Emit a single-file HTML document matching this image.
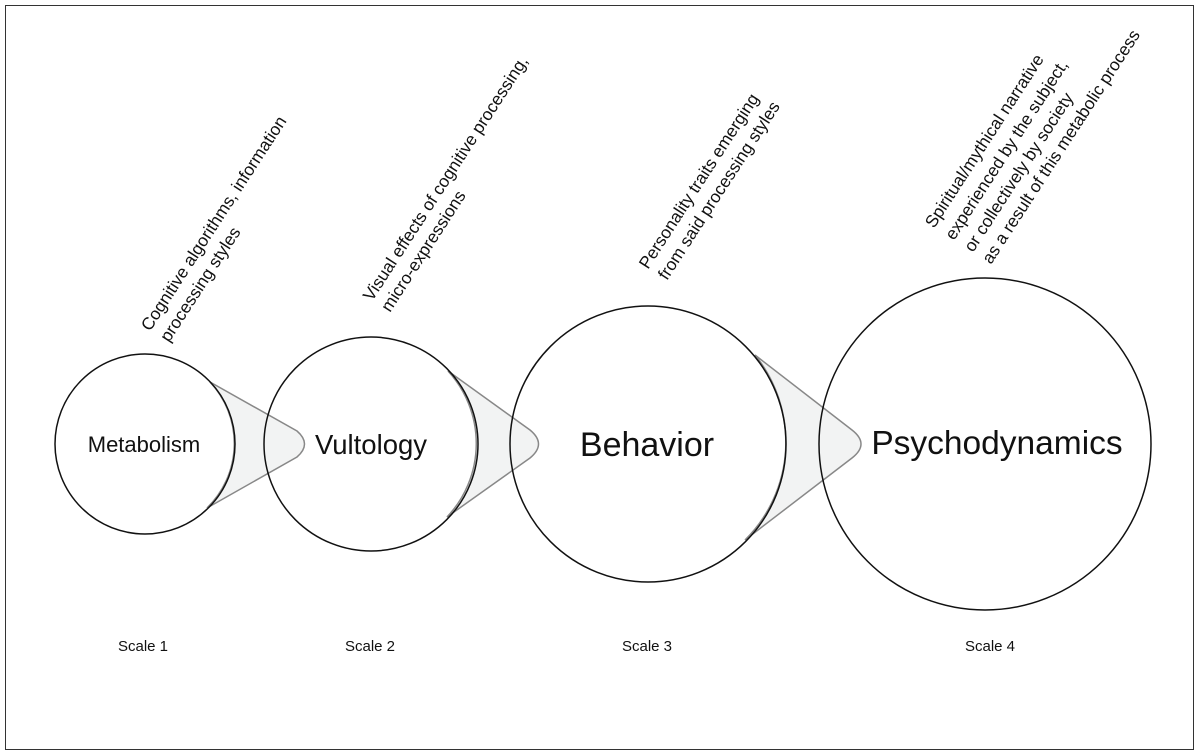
<!DOCTYPE html>
<html><head><meta charset="utf-8"><style>
html,body{margin:0;padding:0;background:#fff;}
svg{display:block;font-family:"Liberation Sans",sans-serif;}
</style></head><body>
<svg width="1200" height="756" viewBox="0 0 1200 756">
<rect x="5.5" y="5.5" width="1188" height="744" fill="#fff" stroke="#333" stroke-width="1"/>
<g fill="#f2f3f3" stroke="#888" stroke-width="1.5">
<path d="M210,382 L297,431 Q312,444 297,457 L207,508 A90,90 0 0 0 210,382 Z"/>
<path d="M448,371 L530,430 Q547,444 530,458 L447,517 A107,107 0 0 0 448,371 Z"/>
<path d="M755,355 L852,430 Q870,444 852,458 L745,540 A138,138 0 0 0 755,355 Z"/>
</g>
<g fill="none" stroke="#111" stroke-width="1.5">
<circle cx="145" cy="444" r="90"/>
<circle cx="371" cy="444" r="107"/>
<circle cx="648" cy="444" r="138"/>
<circle cx="985" cy="444" r="166"/>
</g>
<g fill="#111" text-anchor="middle">
<text x="144" y="452" font-size="22">Metabolism</text>
<text x="371" y="454" font-size="27.5">Vultology</text>
<text x="647" y="456" font-size="34">Behavior</text>
<text x="997" y="454" font-size="33.5">Psychodynamics</text>
<text x="143" y="651" font-size="15">Scale 1</text>
<text x="370" y="651" font-size="15">Scale 2</text>
<text x="647" y="651" font-size="15">Scale 3</text>
<text x="990" y="651" font-size="15">Scale 4</text>
</g>
<g fill="#111" font-size="17.3">
<text transform="translate(150,332) rotate(-57)">Cognitive algorithms, information</text>
<text transform="translate(169,343) rotate(-57)">processing styles</text>
<text transform="translate(372,302) rotate(-57)">Visual effects of cognitive processing,</text>
<text transform="translate(390,313) rotate(-57)">micro-expressions</text>
<text transform="translate(648,270) rotate(-57)">Personality traits emerging</text>
<text transform="translate(667,281) rotate(-57)">from said processing styles</text>
<text transform="translate(934,229) rotate(-57)">Spiritual/mythical narrative</text>
<text transform="translate(954,241) rotate(-57)">experienced by the subject,</text>
<text transform="translate(973,253) rotate(-57)">or collectively by society</text>
<text transform="translate(991,265) rotate(-57)">as a result of this metabolic process</text>
</g>
</svg>
</body></html>
